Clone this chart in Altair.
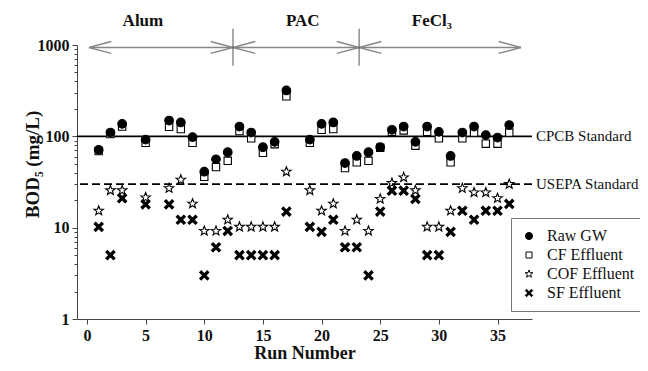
import math
import altair as alt
import pandas as pd

# ---------------- data ----------------
runs = [1, 2, 3, 5, 7, 8, 9, 10, 11, 12, 13, 14, 15, 16, 17,
        19, 20, 21, 22, 23, 24, 25, 26, 27, 28, 29, 30, 31, 32, 33, 34, 35, 36]
raw_gw = [71, 110, 137, 92, 149, 142, 98, 41, 56, 67, 128, 110, 76, 87, 318,
          92, 137, 142, 51, 61, 67, 76, 118, 128, 87, 128, 112, 61, 110, 128, 103, 97, 133]
cf_eff = [69, 106, 128, 85, 127, 120, 85, 36, 46, 54, 114, 95, 66, 82, 274,
          85, 118, 120, 45, 52, 54, 75, 112, 116, 79, 112, 95, 52, 95, 110, 83, 83, 110]
cof_eff = [15.3, 25.6, 25.6, 21.4, 27, 33.5, 18.3, 9.2, 9.2, 12.2, 10.2, 10.2, 10.2, 10.2, 41,
           25.6, 15.3, 18.3, 9.2, 12.2, 9.2, 20.6, 30.8, 35.5, 25.6, 10.2, 10.2, 15.3, 27, 24.3, 24.3, 21, 30]
sf_eff = [10.2, 5, 21, 18, 18, 12.2, 12.2, 3, 6.1, 9.2, 5, 5, 5, 5, 15,
          10.2, 9, 12.2, 6.1, 6.1, 3, 15, 25.4, 25.4, 20.6, 5, 5, 9, 15.3, 12.2, 15.3, 15.3, 18.2]

series_names = ["Raw GW", "CF Effluent", "COF Effluent", "SF Effluent"]

standards = [100, 30]
standard_labels = ["CPCB Standard", "USEPA Standard"]

group_labels = ["Alum", "PAC", "FeCl\u2083"]
group_label_x = [4.77, 18.4, 29.4]
group_start = [0.17, 12.45, 23.2]
group_end = [12.45, 23.2, 37.0]
separators = [12.45, 23.2]

x_ticks = [0, 5, 10, 15, 20, 25, 30, 35]
y_ticks = [m * 10 ** e for e in range(3) for m in range(1, 10)] + [1000]

# ---------------- annotation geometry (data units) ----------------
ARROW_Y = 940
LABEL_Y = 1810
SEP_TOP, SEP_BOT = 1510, 593
HEAD_LEN = 1.9
HEAD_F = 1.163

segs = []
for s, e in zip(group_start, group_end):
    segs.append(dict(run=s, run2=e, value=ARROW_Y, value2=ARROW_Y))
    for tip, back in [(s, s + HEAD_LEN), (e, e - HEAD_LEN)]:
        segs.append(dict(run=tip, run2=back, value=ARROW_Y, value2=ARROW_Y * HEAD_F))
        segs.append(dict(run=tip, run2=back, value=ARROW_Y, value2=ARROW_Y / HEAD_F))
arrow_df = pd.DataFrame(segs)
sep_df = pd.DataFrame(dict(run=separators, run2=separators,
                           value=[SEP_TOP] * 2, value2=[SEP_BOT] * 2))
glabel_df = pd.DataFrame(dict(run=group_label_x, value=[LABEL_Y] * 3, label=group_labels))
std_df = pd.DataFrame(dict(value=standards, label=standard_labels))

# points, drawn CF first so circles overlap squares
rows = []
for name, vals in [("CF Effluent", cf_eff), ("Raw GW", raw_gw),
                   ("COF Effluent", cof_eff), ("SF Effluent", sf_eff)]:
    for r, v in zip(runs, vals):
        rows.append(dict(run=r, value=v, series=name))
pts = pd.DataFrame(rows)

# ---------------- marker shapes ----------------
def star_path(R=1.15, r=0.48):
    pts_ = []
    for k in range(10):
        a = math.radians(-90 + 36 * k)
        rad = R if k % 2 == 0 else r
        pts_.append(f"{rad * math.cos(a):.3f},{rad * math.sin(a):.3f}")
    return "M" + "L".join(pts_) + "Z"

def x_path(ext=1.05, t=0.36):
    p = [(-ext, -ext + t), (-ext + t, -ext), (0, -t), (ext - t, -ext), (ext, -ext + t), (t, 0),
         (ext, ext - t), (ext - t, ext), (0, t), (-ext + t, ext), (-ext, ext - t), (-t, 0)]
    return "M" + "L".join(f"{a:.3f},{b:.3f}" for a, b in p) + "Z"

square_path = "M-0.85,-0.85L0.85,-0.85L0.85,0.85L-0.85,0.85Z"
shapes = ["circle", square_path, star_path(), x_path()]
fills = ["black", "white", "transparent", "black"]

FONT = "'Liberation Serif', 'Times New Roman', Times, 'DejaVu Serif', serif"
W, H = 455, 274

xscale = alt.Scale(domain=[-0.85, 37.94], nice=False, zero=False)
yscale = alt.Scale(type="log", domain=[1, 1000], nice=False)

xaxis = alt.Axis(values=x_ticks, title="Run Number", grid=False, labelFlush=False,
                 labelFont=FONT, labelFontSize=16, labelFontWeight="bold", labelColor="#111",
                 labelPadding=3, tickSize=5, tickColor="#444", domainColor="#444",
                 titleFont=FONT, titleFontSize=18, titleFontWeight="bold", titleColor="#111",
                 titleY=34, titleBaseline="middle")
major_test = "indexof([1,10,100,1000], datum.value) >= 0"
yaxis = alt.Axis(values=y_ticks, format="d", title="BOD\u2085 (mg/L)", grid=False,
                 labelExpr=f"{major_test} ? datum.label : ''", labelOverlap=False,
                 labelFont=FONT, labelFontSize=16, labelFontWeight="bold", labelColor="#111",
                 labelPadding=3, labelFlush=False,
                 tickSize={"condition": {"test": major_test, "value": 5}, "value": 3},
                 tickColor="#444", domainColor="#444",
                 titleFont=FONT, titleFontSize=19, titleFontWeight="bold", titleColor="#111",
                 titleX=-45, titleY=119, titleBaseline="middle")

X = alt.X("run:Q", scale=xscale, axis=xaxis)
Y = alt.Y("value:Q", scale=yscale, axis=yaxis)

legend = alt.Legend(title=None, orient="none", legendX=434, legendY=173,
                    padding=10, strokeColor="#777", fillColor="white",
                    labelFont=FONT, labelFontSize=16, labelColor="#111",
                    symbolSize=50, symbolStrokeWidth=1,
                    rowPadding=3, labelOffset=10)

solid = alt.Chart(std_df[std_df.value == 100]).mark_rule(
    color="black", strokeWidth=1.8).encode(y=Y)
dashed = alt.Chart(std_df[std_df.value == 30]).mark_rule(
    color="black", strokeWidth=1.8, strokeDash=[8, 4]).encode(y=Y)
std_text = alt.Chart(std_df).mark_text(
    align="left", baseline="middle", dx=4, font=FONT, fontSize=15, color="#111"
).encode(x=alt.value(W), y=Y, text="label:N")

arrows = alt.Chart(arrow_df).mark_rule(color="#888", strokeWidth=1.4).encode(
    x=X, x2="run2:Q", y=Y, y2="value2:Q")
seps = alt.Chart(sep_df).mark_rule(color="#555", strokeWidth=1).encode(
    x=X, x2="run2:Q", y=Y, y2="value2:Q")
glabels = alt.Chart(glabel_df).mark_text(
    font=FONT, fontSize=17, fontWeight="bold", color="#111", baseline="middle"
).encode(x=X, y=Y, text="label:N")

points = alt.Chart(pts).mark_point(
    filled=True, strokeWidth=1.1, size=75, opacity=1
).encode(
    x=X, y=Y,
    shape=alt.Shape("series:N", scale=alt.Scale(domain=series_names, range=shapes), legend=legend),
    fill=alt.Fill("series:N", scale=alt.Scale(domain=series_names, range=fills), legend=legend),
    stroke=alt.Stroke("series:N", scale=alt.Scale(domain=series_names, range=["black"] * 4),
                      legend=legend),
)

chart = alt.layer(solid, dashed, std_text, arrows, seps, glabels, points).properties(
    width=W, height=H,
    autosize=alt.AutoSizeParams(type="none"),
    padding={"left": 69, "top": 37, "right": 108, "bottom": 44},
).configure_view(stroke=None)

chart.save("out.html", embed_options={"renderer": "svg", "actions": False})
